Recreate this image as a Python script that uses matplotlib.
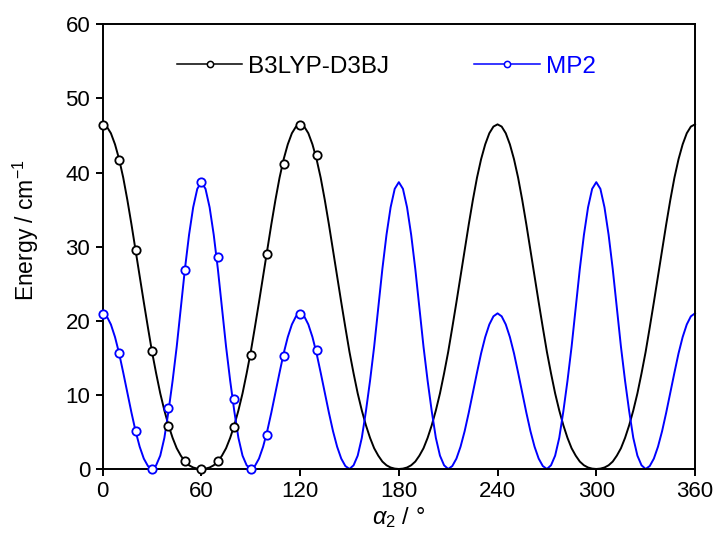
import matplotlib
matplotlib.use("Agg")
import matplotlib.pyplot as plt

plt.rcParams["font.family"] = ["Liberation Sans", "DejaVu Sans"]
plt.rcParams["mathtext.fontset"] = "custom"
plt.rcParams["mathtext.rm"] = "Liberation Sans"
plt.rcParams["mathtext.it"] = "Liberation Sans:italic"

# computed points (markers)
pts_deg = [0, 10, 20, 30, 40, 50, 60, 70, 80, 90, 100, 110, 120, 130]
b3lyp_pts = [46.4, 41.7, 29.5, 15.9, 5.8, 1.1, 0.0, 1.1, 5.6, 15.4, 29.0, 41.2, 46.4, 42.4]
mp2_pts = [20.9, 15.7, 5.1, 0.0, 8.2, 26.9, 38.7, 28.6, 9.4, 0.0, 4.6, 15.2, 20.9, 16.0]

# fitted curves, read every 2.5 degrees
fit_deg = [i * 2.5 for i in range(145)]
b3lyp_fit = [
    46.5, 46.2, 45.3, 43.8, 41.8, 39.3, 36.3, 33.0, 29.5, 26.0, 22.5, 19.1,
    15.8, 12.9, 10.2, 7.9, 5.9, 4.2, 2.8, 1.8, 1.0, 0.5, 0.2, 0.05,
    0.0, 0.05, 0.2, 0.5, 1.0, 1.8, 2.8, 4.2, 5.9, 7.9, 10.2, 12.9,
    15.8, 19.1, 22.5, 26.0, 29.5, 33.0, 36.3, 39.3, 41.8, 43.8, 45.3, 46.2,
    46.5, 46.2, 45.3, 43.8, 41.8, 39.3, 36.3, 33.0, 29.5, 26.0, 22.5, 19.1,
    15.8, 12.9, 10.2, 7.9, 5.9, 4.2, 2.8, 1.8, 1.0, 0.5, 0.2, 0.05,
    0.0, 0.05, 0.2, 0.5, 1.0, 1.8, 2.8, 4.2, 5.9, 7.9, 10.2, 12.9,
    15.8, 19.1, 22.5, 26.0, 29.5, 33.0, 36.3, 39.3, 41.8, 43.8, 45.3, 46.2,
    46.5, 46.2, 45.3, 43.8, 41.8, 39.3, 36.3, 33.0, 29.5, 26.0, 22.5, 19.1,
    15.8, 12.9, 10.2, 7.9, 5.9, 4.2, 2.8, 1.8, 1.0, 0.5, 0.2, 0.05,
    0.0, 0.05, 0.2, 0.5, 1.0, 1.8, 2.8, 4.2, 5.9, 7.9, 10.2, 12.9,
    15.8, 19.1, 22.5, 26.0, 29.5, 33.0, 36.3, 39.3, 41.8, 43.8, 45.3, 46.2,
    46.5,
]
mp2_fit = [
    21.0, 20.6, 19.5, 17.8, 15.6, 13.0, 10.3, 7.6, 5.1, 3.0, 1.4, 0.4,
    0.0, 0.5, 1.8, 4.2, 7.8, 11.9, 16.5, 21.8, 27.0, 31.6, 35.3, 37.8,
    38.7, 37.8, 35.3, 31.6, 27.0, 21.8, 16.5, 11.9, 7.8, 4.2, 1.8, 0.5,
    0.0, 0.4, 1.4, 3.0, 5.1, 7.6, 10.3, 13.0, 15.6, 17.8, 19.5, 20.6,
    21.0, 20.6, 19.5, 17.8, 15.6, 13.0, 10.3, 7.6, 5.1, 3.0, 1.4, 0.4,
    0.0, 0.5, 1.8, 4.2, 7.8, 11.9, 16.5, 21.8, 27.0, 31.6, 35.3, 37.8,
    38.7, 37.8, 35.3, 31.6, 27.0, 21.8, 16.5, 11.9, 7.8, 4.2, 1.8, 0.5,
    0.0, 0.4, 1.4, 3.0, 5.1, 7.6, 10.3, 13.0, 15.6, 17.8, 19.5, 20.6,
    21.0, 20.6, 19.5, 17.8, 15.6, 13.0, 10.3, 7.6, 5.1, 3.0, 1.4, 0.4,
    0.0, 0.5, 1.8, 4.2, 7.8, 11.9, 16.5, 21.8, 27.0, 31.6, 35.3, 37.8,
    38.7, 37.8, 35.3, 31.6, 27.0, 21.8, 16.5, 11.9, 7.8, 4.2, 1.8, 0.5,
    0.0, 0.4, 1.4, 3.0, 5.1, 7.6, 10.3, 13.0, 15.6, 17.8, 19.5, 20.6,
    21.0,
]

fig = plt.figure(figsize=(7.17, 5.33), dpi=100)
ax = fig.add_axes([0.1432, 0.1201, 0.8261, 0.8343])

series = [
    ("B3LYP-D3BJ", b3lyp_fit, b3lyp_pts, "black"),
    ("MP2", mp2_fit, mp2_pts, "#0000ff"),
]
handles = []
for name, fit, pts, col in series:
    ax.plot(fit_deg, fit, color=col, lw=1.4, zorder=2, clip_on=False)
    ax.plot(pts_deg, pts, ls="none", marker="o", ms=6, mew=1.3,
            mfc="white", mec=col, zorder=3, clip_on=False)
    h, = ax.plot([], [], color=col, lw=1.1, marker="o", ms=4.5, mew=1.1,
                 mfc="white", mec=col, label=name)
    handles.append(h)

ax.set_xlim(0, 360)
ax.set_ylim(0, 60)
ax.set_xticks(range(0, 361, 60))
ax.set_yticks(range(0, 61, 10))
ax.tick_params(direction="out", length=5, width=1.4, labelsize=16, pad=4)
for s in ax.spines.values():
    s.set_linewidth(1.4)

ax.set_xlabel(r"$\alpha_2$ / °", fontsize=17, labelpad=2)
ax.set_ylabel(r"Energy / cm$^{-1}$", fontsize=16.5)
ax.yaxis.set_label_coords(-0.104, 0.537)

leg = ax.legend(handles=handles, ncol=2, loc="center left",
                bbox_to_anchor=(0.125, 0.904), frameon=False, fontsize=17.5,
                handlelength=2.7, handletextpad=0.25, columnspacing=3.5,
                borderpad=0, borderaxespad=0)
for txt, (_, _, _, col) in zip(leg.get_texts(), series):
    txt.set_color(col)

fig.savefig("out.png", dpi=100)
